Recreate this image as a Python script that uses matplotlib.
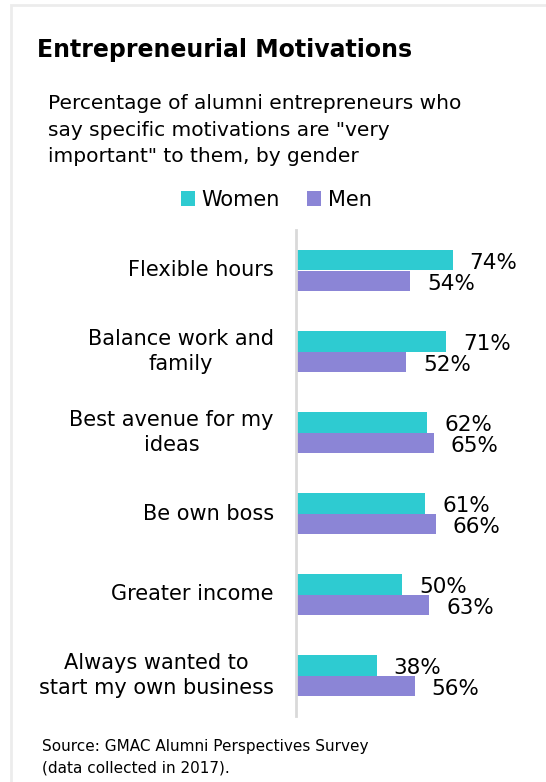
import matplotlib
matplotlib.use("Agg")
import matplotlib.pyplot as plt
from matplotlib.patches import Rectangle
import numpy as np

# chart data
categories = ["Flexible hours", "Balance work and\nfamily", "Best avenue for my\nideas",
              "Be own boss", "Greater income", "Always wanted to\nstart my own business"]
women = [74, 71, 62, 61, 50, 38]
men = [54, 52, 65, 66, 63, 56]
series_names = ["Women", "Men"]

WOMEN_COLOR = "#2ecbd1"
MEN_COLOR = "#8b85d6"
W, H = 546, 782

fig = plt.figure(figsize=(W / 100, H / 100), dpi=100)
plt.rcParams["font.family"] = ["DejaVu Sans"]

# light frame around the card
fig.patches.append(Rectangle((11 / W, -0.1), 1.2, 1 - 5 / H + 0.1, transform=fig.transFigure,
                             fill=False, edgecolor="#ececec", linewidth=2))

ax = fig.add_axes([296 / W, 1 - 716 / H, 250 / W, 486 / H])
y = np.arange(len(categories))
bh = 0.253
ax.barh(y - bh / 2, women, height=bh, color=WOMEN_COLOR, label=series_names[0])
ax.barh(y + bh / 2, men, height=bh, color=MEN_COLOR, label=series_names[1])
ax.set_xlim(0, 118)
ax.set_ylim(len(categories) - 0.5, -0.5)

for i in range(len(categories)):
    ax.text(women[i] + 8, y[i] - bh / 2 + 0.04, f"{women[i]}%", va="center", ha="left", fontsize=15.5)
    ax.text(men[i] + 8, y[i] + bh / 2 + 0.04, f"{men[i]}%", va="center", ha="left", fontsize=15.5)
    ax.text(-10.5, y[i], categories[i], va="center", ha="right", multialignment="center",
            fontsize=15, linespacing=1.3)

for s in ["top", "right", "bottom"]:
    ax.spines[s].set_visible(False)
ax.spines["left"].set_color("#d9d9d9")
ax.spines["left"].set_linewidth(2)
ax.set_xticks([])
ax.set_yticks([])

fig.text(37 / W, 1 - 50 / H, "Entrepreneurial Motivations", fontsize=17, fontweight="bold",
         va="center", ha="left")
fig.text(48 / W, 1 - 94 / H,
         "Percentage of alumni entrepreneurs who\nsay specific motivations are \"very\nimportant\" to them, by gender",
         fontsize=14.5, va="top", ha="left", linespacing=1.5)

fig.legend(loc="center", bbox_to_anchor=(276 / W, 1 - 200 / H), ncol=2, frameon=False,
           fontsize=15, handlelength=0.7, handleheight=0.7, handletextpad=0.3, columnspacing=1.3)

fig.text(42 / W, 1 - 739 / H, "Source: GMAC Alumni Perspectives Survey\n(data collected in 2017).",
         fontsize=11, va="top", ha="left", linespacing=1.55)

fig.savefig("out.png", dpi=100, facecolor="white")
